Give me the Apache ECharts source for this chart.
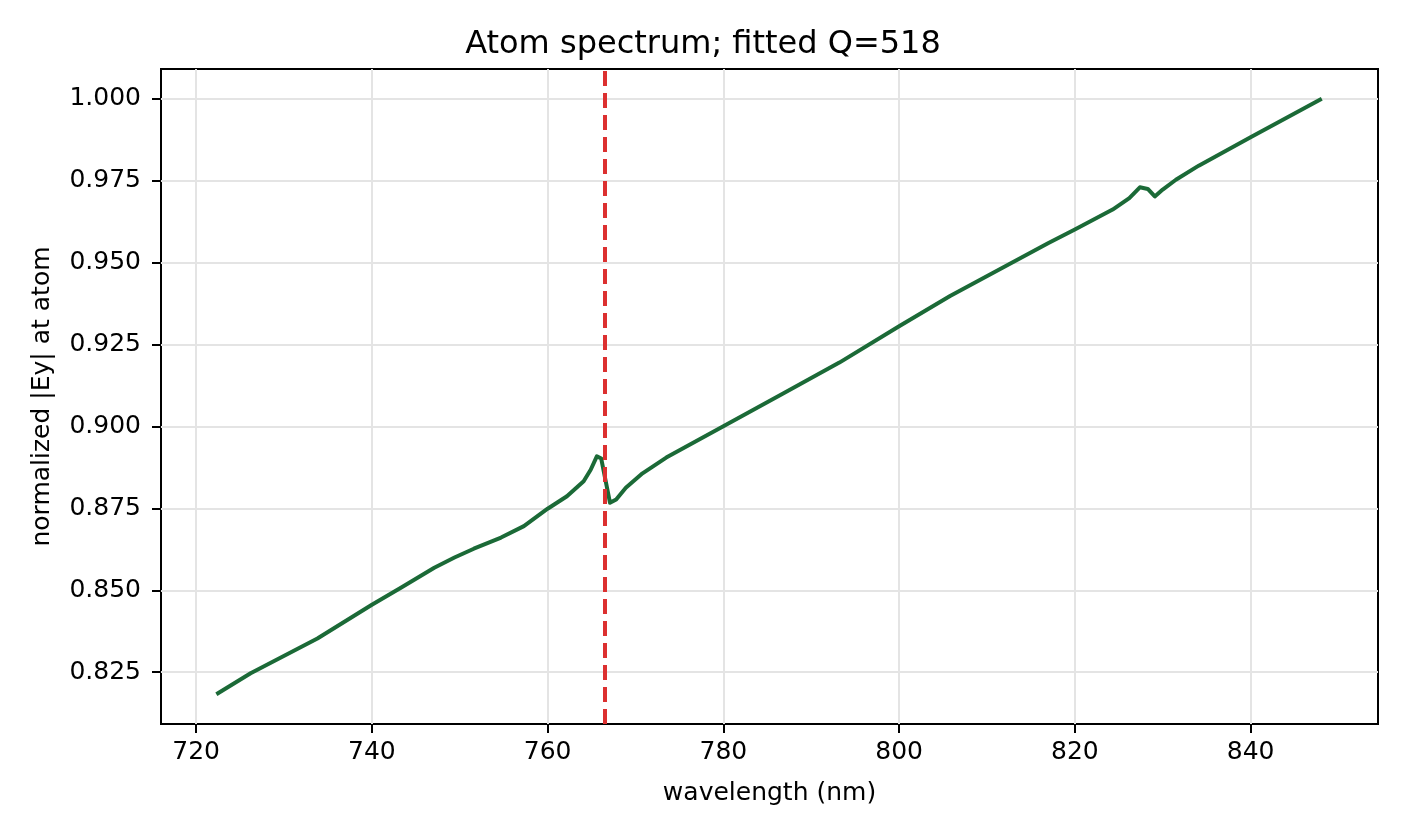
<!DOCTYPE html>
<html>
<head>
<meta charset="utf-8">
<script src="https://cdn.jsdelivr.net/npm/echarts@6/dist/echarts.min.js"></script>
<style>
  html, body { margin: 0; padding: 0; background: #fff; }
</style>
</head>
<body>
<div id="main" style="width:1406px;height:836px;"></div>
<script type="text/javascript">
// wavelength (nm) and normalized |Ey|
var wavelength = [722.3, 726.2, 733.8, 740.0, 743.3, 747.1, 749.4, 751.6, 754.7, 757.3,
                  760.0, 762.2, 764.1, 764.9, 765.6, 766.1, 767.1, 767.8, 768.9, 770.8,
                  773.5, 780.0, 786.8, 793.2, 800.0, 805.8, 811.4, 817.0, 820.0, 824.3,
                  826.2, 827.4, 828.3, 829.1, 830.0, 831.5, 834.1, 840.0, 848.1];
var fieldEy = [0.8183, 0.8247, 0.8353, 0.8456, 0.8508, 0.8569, 0.8600, 0.8627, 0.8661, 0.8696,
               0.8749, 0.8787, 0.8833, 0.8868, 0.8909, 0.8902, 0.8767, 0.8777, 0.8813, 0.8857,
               0.8905, 0.9001, 0.9101, 0.9195, 0.9306, 0.9398, 0.9479, 0.9560, 0.9601, 0.9662,
               0.9697, 0.9730, 0.9725, 0.9702, 0.9723, 0.9753, 0.9796, 0.9883, 1.0000];
var atomLine = 766.5;
var xTicks = [720, 740, 760, 780, 800, 820, 840];
var yTicks = [0.825, 0.850, 0.875, 0.900, 0.925, 0.950, 0.975, 1.000];

var points = wavelength.map(function (w, i) { return [w, fieldEy[i]]; });

var myChart = echarts.init(document.getElementById('main'));
var font = 'DejaVu Sans';

var option = {
    backgroundColor: '#fff',
    animation: false,
    title: {
        text: 'Atom spectrum; fitted Q=518',
        left: 'center',
        top: 24,
        textStyle: { fontFamily: font, fontSize: 32, fontWeight: 'normal', color: '#000' }
    },
    grid: {
        left: 161, right: 28, top: 69, bottom: 112,
        show: true, borderColor: '#000', borderWidth: 2, backgroundColor: 'transparent'
    },
    xAxis: {
        type: 'value',
        min: 716.0,
        max: 854.5,
        name: 'wavelength (nm)',
        nameLocation: 'middle',
        nameGap: 57,
        nameTextStyle: { fontFamily: font, fontSize: 25, color: '#000' },
        axisLine: { show: false },
        axisTick: { show: true, inside: false, length: 9, customValues: xTicks,
                    lineStyle: { color: '#000', width: 2 } },
        axisLabel: { customValues: xTicks, margin: 16, fontFamily: font, fontSize: 25, color: '#000' },
        splitLine: { show: true, lineStyle: { color: '#e4e4e4', width: 2 } }
    },
    yAxis: {
        type: 'value',
        min: 0.8092,
        max: 1.0091,
        name: 'normalized |Ey| at atom',
        nameLocation: 'middle',
        nameGap: 106,
        nameTextStyle: { fontFamily: font, fontSize: 25, color: '#000' },
        axisLine: { show: false },
        axisTick: { show: true, inside: false, length: 9, customValues: yTicks,
                    lineStyle: { color: '#000', width: 2 } },
        axisLabel: { customValues: yTicks, margin: 20, fontFamily: font, fontSize: 25, color: '#000',
                     formatter: function (v) { return v.toFixed(3); } },
        splitLine: { show: true, lineStyle: { color: '#e4e4e4', width: 2 } }
    },
    series: [{
        type: 'line',
        data: points,
        showSymbol: false,
        smooth: false,
        lineStyle: { color: '#1b6a37', width: 4, join: 'round' },
        markLine: {
            silent: true,
            symbol: 'none',
            label: { show: false },
            lineStyle: { color: '#dc3030', width: 4, type: [15, 7] },
            data: [{ xAxis: atomLine }]
        }
    }]
};

myChart.setOption(option);
</script>
</body>
</html>
